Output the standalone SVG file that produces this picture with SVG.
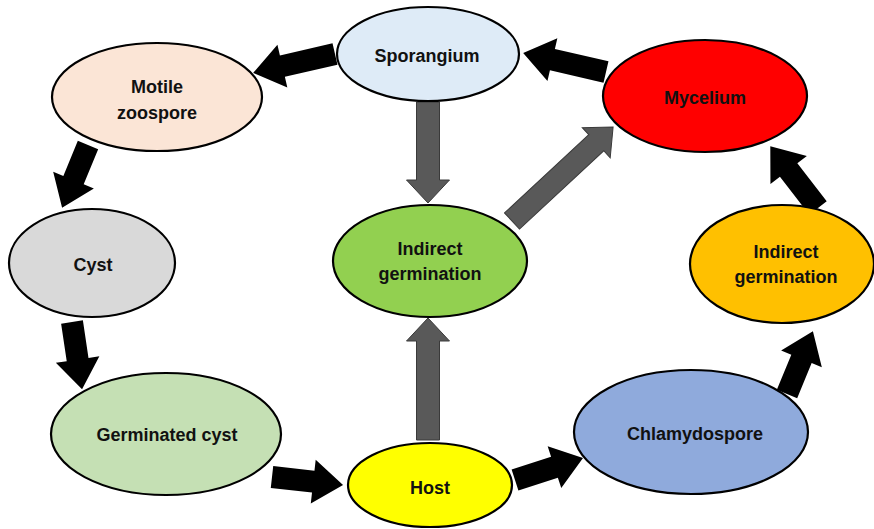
<svg xmlns="http://www.w3.org/2000/svg" width="874" height="529" viewBox="0 0 874 529">
<style>
.node ellipse{stroke:#000;stroke-width:2.2}
.node text{font-family:"Liberation Sans",Arial,sans-serif;font-weight:bold;font-size:18px;fill:#111;text-anchor:middle}
.blk{fill:#000}
.gry{fill:#595959;stroke:#3a3a3a;stroke-width:1}
</style>
<rect width="874" height="529" fill="#fff"/>
<g id="connectors">
<polygon class="blk" transform="translate(335,54) rotate(167)" points="0,-11 54,-11 54,-22 84,0 54,22 54,11 0,11"/>
<polygon class="blk" transform="translate(606,72) rotate(193)" points="0,-11 55,-11 55,-22 85,0 55,22 55,11 0,11"/>
<polygon class="blk" transform="translate(88,145) rotate(112.4)" points="0,-11 38,-11 38,-22 68,0 38,22 38,11 0,11"/>
<polygon class="blk" transform="translate(72,322) rotate(81.5)" points="0,-11 38,-11 38,-22 68,0 38,22 38,11 0,11"/>
<polygon class="blk" transform="translate(272,477) rotate(6.4)" points="0,-11 41.5,-11 41.5,-22 71.5,0 41.5,22 41.5,11 0,11"/>
<polygon class="blk" transform="translate(515,480) rotate(-18)" points="0,-11 41.5,-11 41.5,-22 71.5,0 41.5,22 41.5,11 0,11"/>
<polygon class="blk" transform="translate(787,394) rotate(-67.6)" points="0,-11 38,-11 38,-22 68,0 38,22 38,11 0,11"/>
<polygon class="blk" transform="translate(818,208) rotate(-127.7)" points="0,-11 48,-11 48,-23 78,0 48,23 48,11 0,11"/>
<polygon class="gry" transform="translate(428,102) rotate(90)" points="0,-11.5 78,-11.5 78,-21.5 101,0 78,21.5 78,11.5 0,11.5"/>
<polygon class="gry" transform="translate(428,440) rotate(-90)" points="0,-11.5 99,-11.5 99,-21.5 122,0 99,21.5 99,11.5 0,11.5"/>
<polygon class="gry" transform="translate(512,221) rotate(-42.9)" points="0,-11 115,-11 115,-20.5 138,0 115,20.5 115,11 0,11"/>
</g>
<g id="sporangium" class="node"><ellipse cx="428" cy="54" rx="91" ry="47" fill="#DEEBF7"/><text x="427" y="62">Sporangium</text></g>
<g id="motile-zoospore" class="node"><ellipse cx="157" cy="97" rx="105" ry="54" fill="#FBE5D6"/><text x="157" y="93">Motile</text><text x="157" y="119">zoospore</text></g>
<g id="mycelium" class="node"><ellipse cx="705" cy="96" rx="102" ry="56" fill="#FF0000"/><text x="705" y="104">Mycelium</text></g>
<g id="cyst" class="node"><ellipse cx="92" cy="263" rx="83" ry="54" fill="#D9D9D9"/><text x="93" y="271">Cyst</text></g>
<g id="indirect-germination-center" class="node"><ellipse cx="430" cy="261" rx="97" ry="56" fill="#92D050"/><text x="430" y="255">Indirect</text><text x="430" y="280">germination</text></g>
<g id="indirect-germination-right" class="node"><ellipse cx="782" cy="264" rx="92" ry="59" fill="#FFC000"/><text x="786" y="258">Indirect</text><text x="786" y="283">germination</text></g>
<g id="germinated-cyst" class="node"><ellipse cx="166" cy="434" rx="115" ry="61" fill="#C5E0B4"/><text x="167" y="441">Germinated cyst</text></g>
<g id="host" class="node"><ellipse cx="430" cy="485" rx="82" ry="42" fill="#FFFF00"/><text x="430" y="494">Host</text></g>
<g id="chlamydospore" class="node"><ellipse cx="691" cy="432" rx="117" ry="62" fill="#8FAADC"/><text x="695" y="440">Chlamydospore</text></g>
</svg>
